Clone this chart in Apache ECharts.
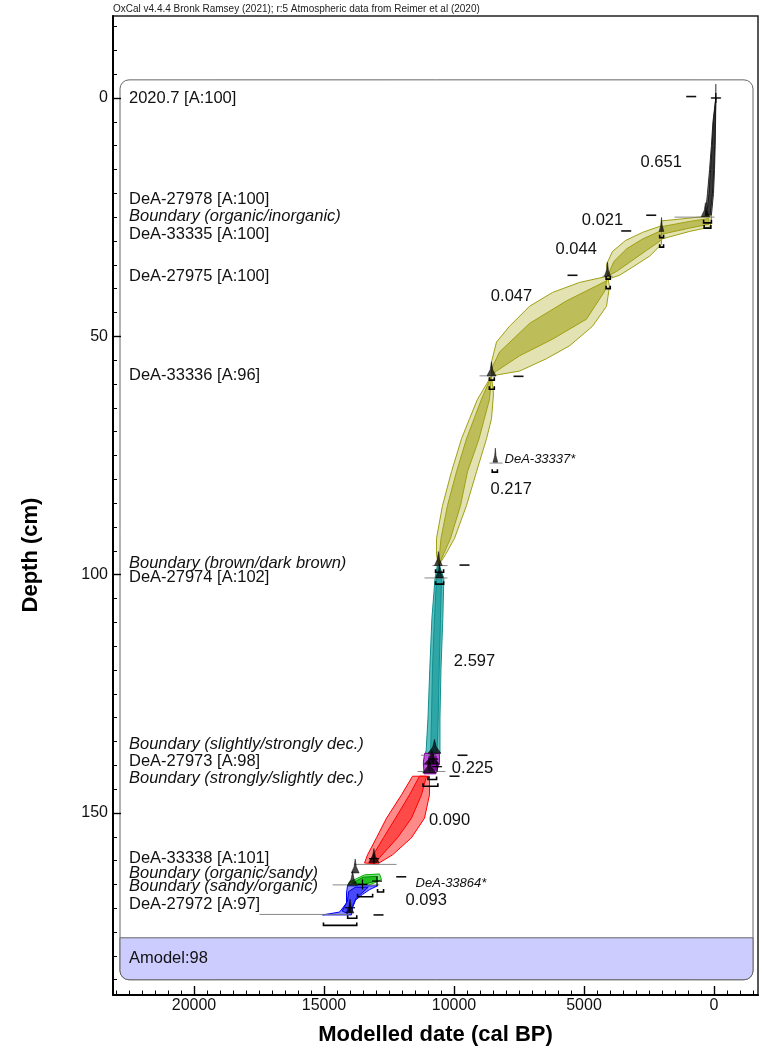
<!DOCTYPE html>
<html>
<head>
<meta charset="utf-8">
<title>OxCal P_Sequence depth model</title>
<script src="https://cdn.jsdelivr.net/npm/echarts@6/dist/echarts.min.js"></script>
<style>
  html, body { margin: 0; padding: 0; background: #fff; }
  #chart { width: 762px; height: 1051px; }
</style>
</head>
<body>
<div id="chart"></div>
<script>
// ---------------------------------------------------------------
// Depth model: modelled age (cal BP) against depth (cm)
// Envelopes are [age, depth] outlines (95% outer, 68% inner)
// ---------------------------------------------------------------

// black section: 2020.7 surface down to the organic/inorganic boundary
const envBlack95 = [[-70, 0], [40, 5], [100, 10], [170, 15], [250, 20], [340, 25.0],
  [108, 25.0], [20, 20], [-20, 15], [-45, 10], [-60, 5]];
const envBlack68 = [[-70, 0], [20, 5], [70, 10], [130, 15], [190, 20], [290, 25.0],
  [160, 25.0], [60, 20], [10, 15], [-25, 10], [-50, 5]];

// olive section: organic/inorganic boundary to brown/dark brown boundary
const envOliveA95 = [[100, 24.7], [940, 25.2], [2020, 25.8], [2060, 28.0], [2020, 29.6],
  [940, 28.0], [170, 27.1], [96, 26.0]];
const envOliveA68 = [[200, 25.3], [940, 25.9], [2020, 27.0], [2020, 28.6], [940, 27.3], [200, 26.5]];
const envOliveB95 = [[2019, 26.8], [2750, 28.2], [3404, 29.9], [3904, 32.2], [4134, 34.9], [4096, 37.4],
  [4019, 37.9], [3635, 37.2], [3135, 35.5], [2481, 33.2], [2019, 30.7]];
const envOliveB68 = [[2019, 27.8], [2750, 29.6], [3350, 31.6], [3850, 34.3], [4096, 37.4],
  [3750, 36.4], [3200, 34.3], [2600, 32.0], [2019, 29.8]];
const envOliveC95 = [[4096, 37.4], [5173, 38.7], [6211, 40.8], [7096, 43.7], [7865, 47.9], [8365, 51.2],
  [8558, 55.4], [8558, 58.3], [7481, 57.3], [6442, 54.7], [5558, 52.0], [4673, 47.9], [4134, 43.7], [4019, 39.5]];
const envOliveC68 = [[4096, 37.4], [4146, 38.4], [5684, 42.6], [7096, 47.3], [8250, 53.3], [8519, 56.4], [8558, 58.3],
  [8365, 57.3], [7481, 54.1], [6211, 50.6], [4904, 46.4], [4200, 40.5]];
const envOliveD95 = [[8558, 58.3], [9096, 63.2], [9403, 67.3], [9711, 71.5], [10096, 78.4], [10442, 85.5],
  [10673, 92.4], [10673, 95.8], [10596, 98.1], [10327, 95.8], [9980, 92.4], [9519, 85.5], [9134, 78.4],
  [8750, 71.5], [8558, 67.3], [8480, 62.1]];
const envOliveD68 = [[8558, 58.3], [8942, 63.2], [9519, 71.5], [9903, 78.4], [10250, 85.5], [10500, 92.4],
  [10596, 98.1], [10134, 92.4], [9750, 85.5], [9480, 78.4], [9038, 71.5], [8634, 63.2]];

// teal section: brown/dark brown boundary to slightly/strongly decomposed boundary
const envTeal95 = [[10640, 98.1], [10730, 100.8], [10850, 109.2], [10930, 119.7], [11000, 130.1], [11070, 136.8],
  [11100, 137.5], [10540, 137.5], [10540, 130.1], [10500, 119.7], [10430, 109.2], [10390, 100.8], [10560, 98.1]];
const envTeal68 = [[10620, 98.1], [10673, 100.8], [10750, 109.2], [10827, 119.7], [10865, 130.1], [10900, 137.5],
  [10650, 137.5], [10610, 130.1], [10570, 119.7], [10520, 109.2], [10480, 100.8], [10580, 98.1]];

// purple section: DeA-27973 between the two decomposition boundaries
const envPurple95 = [[11130, 137.5], [11180, 139.5], [11150, 141.8], [10700, 141.8], [10560, 139.5], [10560, 137.5]];
const envPurple68 = [[10950, 137.8], [11000, 139.5], [10950, 141.5], [10750, 141.5], [10650, 139.5], [10700, 137.8]];

// red section: strongly/slightly decomposed boundary to DeA-33338
const envRed95 = [[11596, 142.3], [12019, 146.2], [12596, 151.1], [12980, 155.2], [13326, 158.8], [13442, 160.5],
  [12942, 160.7], [12365, 158.8], [11634, 155.2], [11134, 151.1], [10942, 146.2], [10942, 142.3]];
const envRed68 = [[11327, 142.3], [11711, 146.2], [12250, 151.1], [12711, 155.2], [13173, 159.4], [13250, 160.5],
  [13000, 160.5], [12865, 159.4], [12173, 155.2], [11634, 151.1], [11250, 146.2], [11057, 142.3]];

// green section: organic/sandy to sandy/organic boundary
const envGreen95 = [[12865, 162.8], [13442, 163.0], [14019, 164.5], [14096, 165.3], [13326, 165.3], [12788, 164.0]];
const envGreen68 = [[13000, 163.3], [13500, 163.5], [13900, 164.7], [13400, 164.9], [12950, 164.2]];

// blue section: sandy/organic boundary to DeA-27972
const envBlue95 = [[12942, 165.3], [13250, 166.1], [13519, 167.1], [13788, 168.3], [13903, 169.9], [13942, 171.4],
  [15057, 171.4], [14403, 170.8], [14134, 168.9], [14134, 166.8], [14096, 165.3]];
const envBlue68 = [[13300, 165.6], [13500, 166.6], [13750, 167.8], [13900, 169.5], [14100, 171.1],
  [14300, 170.6], [14100, 168.5], [14050, 166.5], [13800, 165.6]];

// posterior peaks at each dated level: [age, depth, spread (yr)]
const peaks = [[-70, 0, 10], [330, 24.9, 160], [2019, 28.0, 90], [4096, 37.4, 120], [8560, 58.3, 170],
  [8410, 76.4, 90], [10600, 98.1, 150], [10560, 100.7, 150], [10750, 137.5, 250], [10850, 139.8, 300],
  [10950, 141.6, 250], [13080, 160.4, 200], [13800, 162.6, 150], [13900, 165.2, 200], [14000, 171.0, 150]];

// full range lines: [older age, younger age, depth]
const rangeLines = [[100, -280, 0], [1520, -20, 25.0], [4290, 3900, 37.4], [9020, 8370, 58.3], [8630, 8130, 76.6],
  [10830, 10250, 98.1], [11134, 10250, 100.7], [11270, 10560, 137.9], [11400, 10330, 141.3],
  [13830, 12210, 160.8], [14670, 12870, 165.1], [17480, 14050, 171.3]];

// range brackets: [older age, younger age, depth]
const brackets = [[400, 100, 26.2], [380, 120, 27.3], [2090, 1940, 29.3], [2090, 1940, 31.3],
  [4150, 3990, 38.0], [4150, 3990, 40.0], [8640, 8450, 59.2], [8640, 8450, 61.1], [8530, 8330, 78.5],
  [10710, 10400, 99.5], [10710, 10400, 102.0], [11000, 10670, 143.0], [11190, 10620, 144.4],
  [13710, 13130, 167.6], [12940, 12710, 166.6], [14090, 13740, 172.1], [15020, 13740, 173.6]];

// median crosses: [age, depth]
const crosses = [[-70, 0], [13080, 159.6], [12960, 164.3], [13520, 165.0], [14000, 169.9],
  [10800, 138.7], [10650, 140.3]];

// short dashes: [age, depth]
const dashes = [[877, -0.3], [2415, 24.6], [3377, 27.9], [5442, 37.2], [7519, 58.4], [9596, 98.0],
  [9673, 137.9], [9980, 142.3], [12030, 163.4], [12903, 171.4]];

// interpolation rate labels: [age, depth, text]
const rateLabels = [[2030, 13.5, '0.651'], [4288, 25.8, '0.021'], [5300, 31.7, '0.044'], [7788, 41.6, '0.047'],
  [7800, 82.1, '0.217'], [9211, 118.2, '2.597'], [9288, 140.6, '0.225'], [10172, 151.5, '0.090'],
  [11069, 168.4, '0.093']];

// outliers: [age, depth, text]
const outlierLabels = [[8057, 75.9, 'DeA-33337*'], [11480, 164.8, 'DeA-33864*']];

// sample / boundary names and the depth each is listed at
const sampleNames = ['2020.7 [A:100]', 'DeA-27978 [A:100]', 'Boundary (organic/inorganic)', 'DeA-33335 [A:100]',
  'DeA-27975 [A:100]', 'DeA-33336 [A:96]', 'Boundary (brown/dark brown)', 'DeA-27974 [A:102]',
  'Boundary (slightly/strongly dec.)', 'DeA-27973 [A:98]', 'Boundary (strongly/slightly dec.)',
  'DeA-33338 [A:101]', 'Boundary (organic/sandy)', 'Boundary (sandy/organic)', 'DeA-27972 [A:97]'];
const sampleDepths = [0, 21.3, 24.9, 28.6, 37.4, 58.3, 97.6, 100.6, 135.6, 139.1, 142.7, 159.6, 162.6, 165.5, 169.3];

const ageTicks = [0, 5000, 10000, 15000, 20000];
const depthTicks = [0, 50, 100, 150];

// ---------------------------------------------------------------
const FONT = '"Liberation Sans", Arial, Helvetica, sans-serif';
const AGE_MIN = -1692, AGE_MAX = 23115;
const DEPTH_MIN = -17.2, DEPTH_MAX = 188.2;
const BOX_TOP = -3.8, AMODEL_TOP = 176.2, BOX_BOTTOM = 185.0;

const ageMinor = [];
for (let v = -1500; v <= 23000; v += 500) ageMinor.push(v);
const depthMinor = [];
for (let v = -15; v <= 185; v += 5) depthMinor.push(v);

const chart = echarts.init(document.getElementById('chart'), null, { renderer: 'canvas' });

function polygonSeries(points, fill, stroke, z) {
  return {
    type: 'custom', silent: true, z: z, data: [[0, 0]],
    renderItem: function (params, api) {
      return {
        type: 'polygon',
        shape: { points: points.map(function (p) { return api.coord(p); }) },
        style: { fill: fill, stroke: stroke, lineWidth: 1 }
      };
    }
  };
}

const sections = [
  [envBlack95, '#757575', '#2a2a2a'], [envBlack68, '#3a3a3a', '#1a1a1a'],
  [envOliveA95, '#e2e2b2', '#a0a014'], [envOliveA68, '#bdbd5a', '#a0a014'],
  [envOliveB95, '#e2e2b2', '#a0a014'], [envOliveB68, '#bdbd5a', '#a0a014'],
  [envOliveC95, '#e2e2b2', '#a0a014'], [envOliveC68, '#bdbd5a', '#a0a014'],
  [envOliveD95, '#e2e2b2', '#a0a014'], [envOliveD68, '#bdbd5a', '#a0a014'],
  [envTeal95, '#5fc0c0', '#0f8f8f'], [envTeal68, '#2ea6a6', '#0f8f8f'],
  [envPurple95, '#c050e0', '#8000a0'], [envPurple68, '#9010b0', '#700090'],
  [envRed95, '#ff8a8a', '#ff0000'], [envRed68, '#ff4a4a', '#ff0000'],
  [envGreen95, '#80e080', '#00b000'], [envGreen68, '#20c020', '#009000'],
  [envBlue95, '#8c8cff', '#0000ff'], [envBlue68, '#4848ff', '#0000e0']
];

const series = [];

// rounded model box with the agreement strip
series.push({
  type: 'custom', silent: true, z: 0, data: [[0, 0]],
  renderItem: function (params, api) {
    const cs = params.coordSys;
    const x0 = cs.x + 7, x1 = cs.x + cs.width - 5;
    const yT = api.coord([0, BOX_TOP])[1];
    const yA = api.coord([0, AMODEL_TOP])[1];
    const yB = api.coord([0, BOX_BOTTOM])[1];
    return {
      type: 'group',
      children: [
        { type: 'rect', shape: { x: x0, y: yT, width: x1 - x0, height: yB - yT, r: 9 },
          style: { fill: '#fff', stroke: '#666', lineWidth: 1 } },
        { type: 'rect', shape: { x: x0, y: yA, width: x1 - x0, height: yB - yA, r: [0, 0, 9, 9] },
          style: { fill: '#ccccff', stroke: '#666', lineWidth: 1 } },
        { type: 'text', x: x0 + 9, y: (yA + yB) / 2,
          style: { text: 'Amodel:98', fill: '#111', fontSize: 16.5, fontFamily: FONT, align: 'left', verticalAlign: 'middle' } }
      ]
    };
  }
});

sections.forEach(function (s, i) { series.push(polygonSeries(s[0], s[1], s[2], 2 + i * 0.01)); });

// thin range lines
series.push({
  type: 'custom', silent: true, z: 3, data: rangeLines,
  renderItem: function (params, api) {
    const a = api.coord([api.value(0), api.value(2)]);
    const b = api.coord([api.value(1), api.value(2)]);
    return { type: 'line', shape: { x1: a[0], y1: a[1], x2: b[0], y2: b[1] },
      style: { stroke: '#7a7a7a', lineWidth: 0.9 } };
  }
});

// posterior peaks
series.push({
  type: 'custom', silent: true, z: 4, data: peaks,
  renderItem: function (params, api) {
    const age = api.value(0), d = api.value(1), s = api.value(2);
    const base = api.coord([age, d]);
    const l = api.coord([age + s, d]);
    const r = api.coord([age - s, d]);
    const h = 14;
    const ql = api.coord([age + s * 0.28, d]);
    const qr = api.coord([age - s * 0.28, d]);
    return {
      type: 'polygon',
      shape: { points: [[l[0], base[1]], [ql[0], base[1] - h * 0.45], [base[0], base[1] - h],
        [qr[0], base[1] - h * 0.45], [r[0], base[1]]] },
      style: { fill: 'rgba(0,0,0,0.72)', stroke: 'rgba(0,0,0,0.8)', lineWidth: 0.6 }
    };
  }
});

// range brackets
series.push({
  type: 'custom', silent: true, z: 5, data: brackets,
  renderItem: function (params, api) {
    const a = api.coord([api.value(0), api.value(2)]);
    const b = api.coord([api.value(1), api.value(2)]);
    return { type: 'polyline', shape: { points: [[a[0], a[1] - 3], [a[0], a[1]], [b[0], b[1]], [b[0], b[1] - 3]] },
      style: { stroke: '#000', lineWidth: 1.6, fill: null } };
  }
});

// crosses
series.push({
  type: 'custom', silent: true, z: 6, data: crosses,
  renderItem: function (params, api) {
    const p = api.coord([api.value(0), api.value(1)]);
    return { type: 'group', children: [
      { type: 'line', shape: { x1: p[0] - 5, y1: p[1], x2: p[0] + 5, y2: p[1] }, style: { stroke: '#000', lineWidth: 1.2 } },
      { type: 'line', shape: { x1: p[0], y1: p[1] - 5, x2: p[0], y2: p[1] + 5 }, style: { stroke: '#000', lineWidth: 1.2 } }
    ] };
  }
});

// dashes
series.push({
  type: 'custom', silent: true, z: 6, data: dashes,
  renderItem: function (params, api) {
    const p = api.coord([api.value(0), api.value(1)]);
    return { type: 'line', shape: { x1: p[0] - 5, y1: p[1], x2: p[0] + 5, y2: p[1] },
      style: { stroke: '#111', lineWidth: 1.6 } };
  }
});

// rate labels
series.push({
  type: 'custom', silent: true, z: 7, data: rateLabels.map(function (r) { return [r[0], r[1]]; }),
  renderItem: function (params, api) {
    const p = api.coord([api.value(0), api.value(1)]);
    return { type: 'text', x: p[0], y: p[1],
      style: { text: rateLabels[params.dataIndex][2], fill: '#111', fontSize: 16.5, fontFamily: FONT,
        align: 'center', verticalAlign: 'middle' } };
  }
});

// outlier labels
series.push({
  type: 'custom', silent: true, z: 7, data: outlierLabels.map(function (r) { return [r[0], r[1]]; }),
  renderItem: function (params, api) {
    const p = api.coord([api.value(0), api.value(1)]);
    return { type: 'text', x: p[0], y: p[1],
      style: { text: outlierLabels[params.dataIndex][2], fill: '#111', fontSize: 13, fontStyle: 'italic',
        fontFamily: FONT, align: 'left', verticalAlign: 'middle' } };
  }
});

// sample and boundary names down the left side
series.push({
  type: 'custom', silent: true, z: 7, data: sampleDepths.map(function (d) { return [0, d]; }),
  renderItem: function (params, api) {
    const y = api.coord([0, api.value(1)])[1];
    const name = sampleNames[params.dataIndex];
    return { type: 'text', x: params.coordSys.x + 16, y: y,
      style: { text: name, fill: '#111', fontSize: 16.5, fontFamily: FONT,
        fontStyle: name.indexOf('Boundary') === 0 ? 'italic' : 'normal',
        align: 'left', verticalAlign: 'middle' } };
  }
});

const tickFont = { color: '#111', fontSize: 16, fontFamily: FONT };

chart.setOption({
  animation: false,
  backgroundColor: '#fff',
  textStyle: { fontFamily: FONT },
  grid: { left: 113, right: 4, top: 16, bottom: 54, show: true, borderColor: '#222', borderWidth: 1.5,
    backgroundColor: 'transparent' },
  graphic: [{
    type: 'text', left: 113, top: 4,
    style: { text: 'OxCal v4.4.4 Bronk Ramsey (2021); r:5 Atmospheric data from Reimer et al (2020)',
      fill: '#222', fontSize: 10, fontFamily: FONT }
  }, {
    type: 'text', x: 31, y: 555, rotation: Math.PI / 2,
    style: { text: 'Depth (cm)', fill: '#000', fontSize: 22, fontWeight: 'bold', fontFamily: FONT,
      align: 'center', verticalAlign: 'middle' }
  }],
  xAxis: [{
    type: 'value', inverse: true, min: AGE_MIN, max: AGE_MAX, position: 'bottom',
    axisLine: { show: true, onZero: false, lineStyle: { color: '#000', width: 2 } },
    axisTick: { show: true, inside: true, length: 9, customValues: ageTicks, lineStyle: { color: '#000', width: 1.4 } },
    axisLabel: Object.assign({ customValues: ageTicks, margin: 3, formatter: function (v) { return String(v); } }, tickFont),
    splitLine: { show: false },
    name: 'Modelled date (cal BP)', nameLocation: 'middle', nameGap: 29,
    nameTextStyle: { color: '#000', fontSize: 22, fontWeight: 'bold', fontFamily: FONT }
  }, {
    type: 'value', inverse: true, min: AGE_MIN, max: AGE_MAX, position: 'bottom',
    axisLine: { show: false, onZero: false },
    axisTick: { show: true, inside: true, length: 4.5, customValues: ageMinor, lineStyle: { color: '#000', width: 1 } },
    axisLabel: { show: false }, splitLine: { show: false }
  }],
  yAxis: [{
    type: 'value', inverse: true, min: DEPTH_MIN, max: DEPTH_MAX, position: 'left',
    axisLine: { show: true, onZero: false, lineStyle: { color: '#000', width: 2 } },
    axisTick: { show: true, inside: true, length: 8, customValues: depthTicks, lineStyle: { color: '#000', width: 1.4 } },
    axisLabel: Object.assign({ customValues: depthTicks, margin: 5, formatter: function (v) { return String(v); } }, tickFont),
    splitLine: { show: false }
  }, {
    type: 'value', inverse: true, min: DEPTH_MIN, max: DEPTH_MAX, position: 'left',
    axisLine: { show: false, onZero: false },
    axisTick: { show: true, inside: true, length: 4, customValues: depthMinor, lineStyle: { color: '#000', width: 1 } },
    axisLabel: { show: false }, splitLine: { show: false }
  }],
  series: series
});
</script>
</body>
</html>
